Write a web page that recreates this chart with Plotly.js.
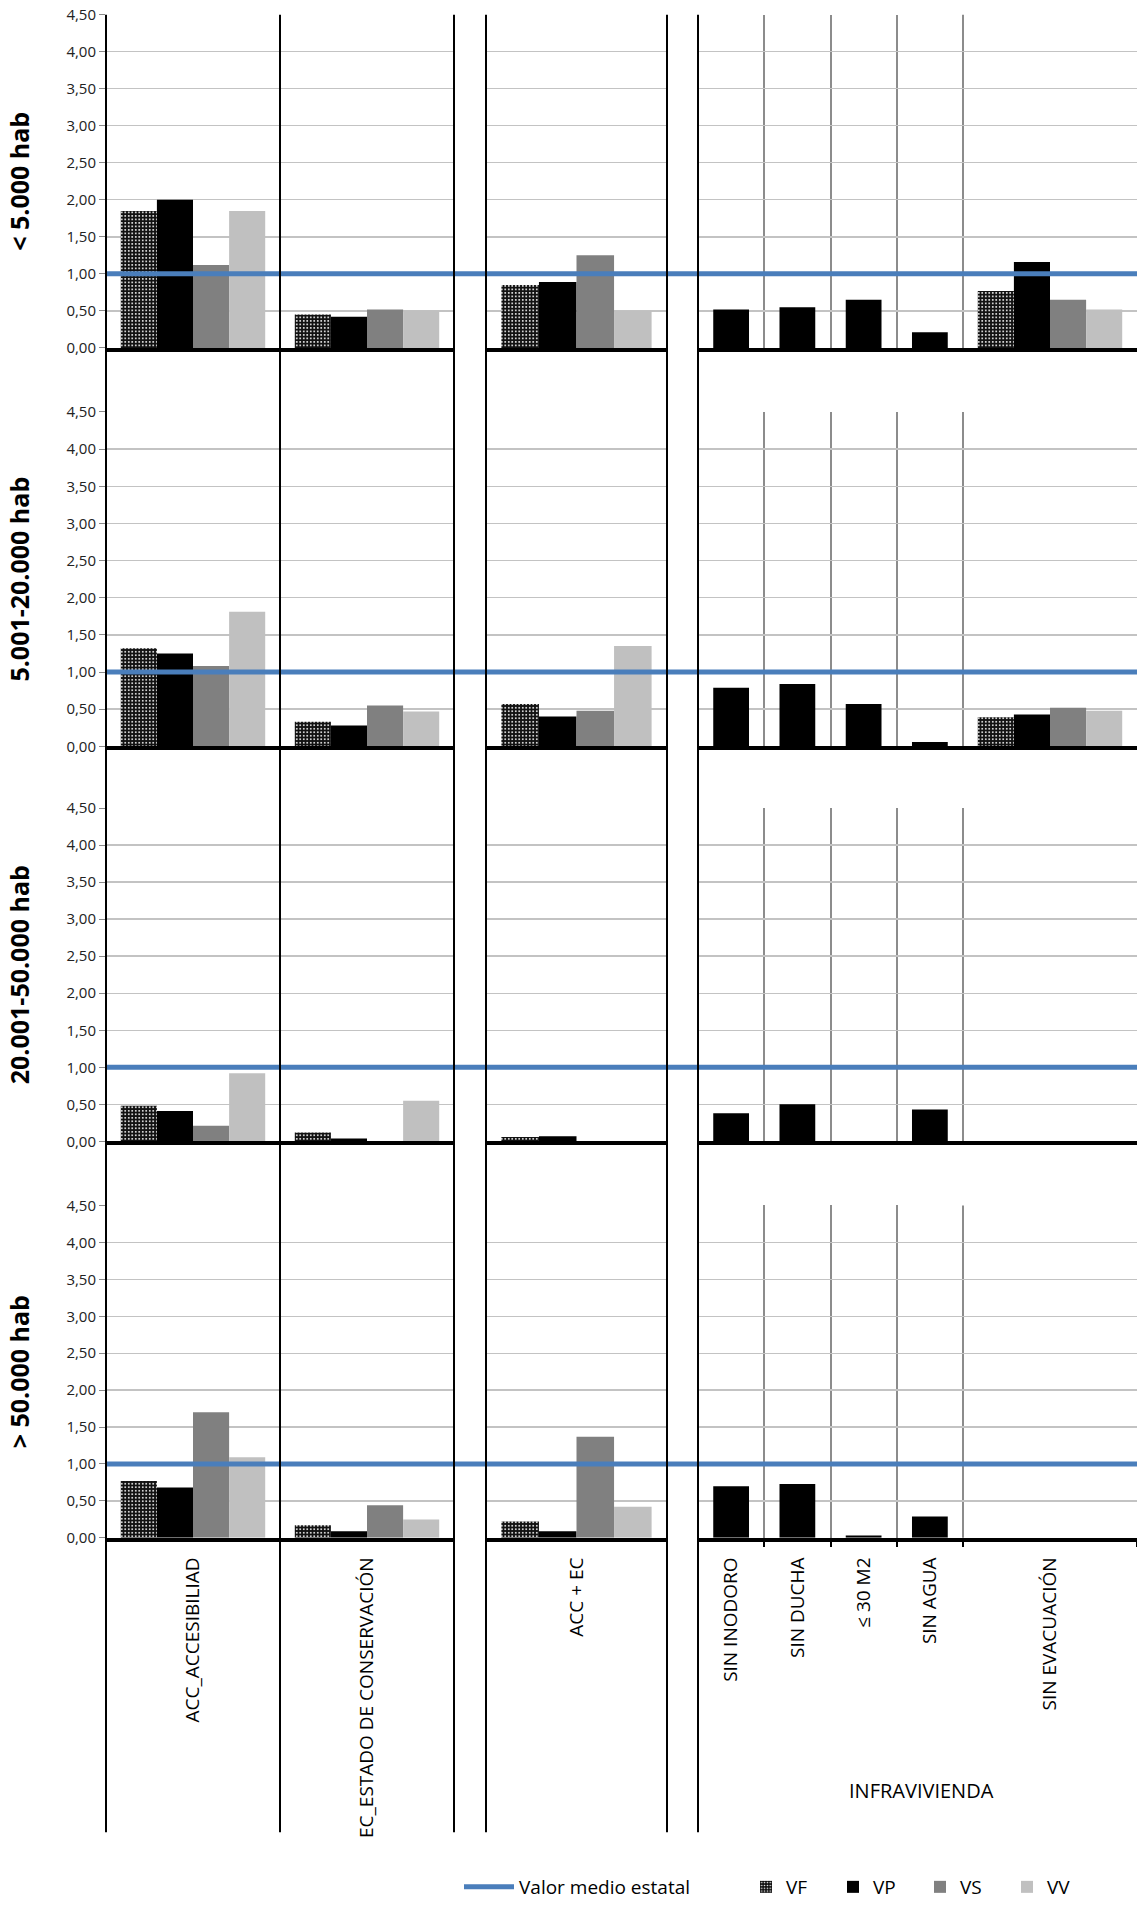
<!DOCTYPE html>
<html>
<head>
<meta charset="utf-8">
<script src="https://cdn.plot.ly/plotly-3.0.1.min.js"></script>
<style>html,body{margin:0;padding:0;background:#fff;}</style>
</head>
<body>
<div id="chart" style="width:1137px;height:1906px;"></div>
<script>
// ---------------- DATA ----------------
const categories = ['ACC_ACCESIBILIAD', 'EC_ESTADO DE CONSERVACIÓN', 'ACC + EC',
  'SIN INODORO', 'SIN DUCHA', '≤ 30 M2', 'SIN AGUA', 'SIN EVACUACIÓN'];
const groupLabel = 'INFRAVIVIENDA';
const rowLabels = ['< 5.000 hab', '5.001-20.000 hab', '20.001-50.000 hab', '> 50.000 hab'];
const seriesNames = ['VF', 'VP', 'VS', 'VV'];
const lineName = 'Valor medio estatal';
const valorMedio = 1.0;

// < 5.000 hab
const vfRow1 = [1.85, 0.45, 0.85, null, null, null, null, 0.77];
const vpRow1 = [2.00, 0.42, 0.89, 0.52, 0.55, 0.65, 0.21, 1.16];
const vsRow1 = [1.12, 0.52, 1.25, null, null, null, null, 0.65];
const vvRow1 = [1.85, 0.51, 0.50, null, null, null, null, 0.52];
// 5.001-20.000 hab
const vfRow2 = [1.32, 0.33, 0.57, null, null, null, null, 0.39];
const vpRow2 = [1.25, 0.28, 0.40, 0.79, 0.84, 0.57, 0.06, 0.43];
const vsRow2 = [1.08, 0.55, 0.48, null, null, null, null, 0.52];
const vvRow2 = [1.81, 0.47, 1.35, null, null, null, null, 0.48];
// 20.001-50.000 hab
const vfRow3 = [0.48, 0.12, 0.06, null, null, null, null, 0];
const vpRow3 = [0.41, 0.04, 0.07, 0.38, 0.50, 0, 0.43, 0];
const vsRow3 = [0.21, 0, 0, null, null, null, null, 0];
const vvRow3 = [0.92, 0.55, 0, null, null, null, null, 0];
// > 50.000 hab
const vfRow4 = [0.77, 0.17, 0.22, null, null, null, null, 0];
const vpRow4 = [0.68, 0.09, 0.09, 0.70, 0.73, 0.03, 0.29, 0];
const vsRow4 = [1.70, 0.44, 1.37, null, null, null, null, 0];
const vvRow4 = [1.09, 0.25, 0.42, null, null, null, null, 0];

const rowsData = [
  [vfRow1, vpRow1, vsRow1, vvRow1],
  [vfRow2, vpRow2, vsRow2, vvRow2],
  [vfRow3, vpRow3, vsRow3, vvRow3],
  [vfRow4, vpRow4, vsRow4, vvRow4]
];

// ---------------- LAYOUT GEOMETRY (pixels) ----------------
const W = 1137, H = 1906;
const FONT = 'Open Sans';
const colPx = [[106, 454], [486, 667], [698, 963], [963, 1137]];
const colSlices = [[0, 2], [2, 3], [3, 7], [7, 8]];
const rowPx = [[14.7, 349], [413.3, 748.7], [810.6, 1145], [1209.3, 1542.7]];
const dividerBottom = 1838;
const GRID_V = '#8c8c8c';

const seriesStyle = [
  {color: '#111111', pattern: {shape: '.', fgcolor: '#ffffff', bgcolor: '#111111', size: 3.5, solidity: 0.22, fillmode: 'replace'}},
  {color: '#000000'},
  {color: '#808080'},
  {color: '#c0c0c0'}
];

const traces = [];
const layout = {
  width: W, height: H,
  margin: {l: 0, r: 0, t: 0, b: 0, pad: 0},
  paper_bgcolor: '#ffffff', plot_bgcolor: 'rgba(0,0,0,0)',
  separators: ',.',
  barmode: 'group', bargap: 0.17, bargroupgap: 0,
  font: {family: FONT, color: '#000'},
  hovermode: false,
  shapes: [], annotations: [],
  legend: {
    orientation: 'h', x: 459 / W, xanchor: 'left', y: (H - 1893) / H, yanchor: 'middle',
    font: {family: FONT, size: 19, color: '#000'}, bgcolor: 'rgba(0,0,0,0)', borderwidth: 0,
    itemwidth: 50
  },
  legend2: {
    orientation: 'h', x: 746 / W, xanchor: 'left', y: (H - 1893) / H, yanchor: 'middle',
    font: {family: FONT, size: 19, color: '#000'}, bgcolor: 'rgba(0,0,0,0)', borderwidth: 0,
    entrywidthmode: 'pixels', entrywidth: 42
  }
};

for (let r = 0; r < 4; r++) {
  const yDom = [(H - rowPx[r][1]) / H, (H - rowPx[r][0]) / H];
  for (let c = 0; c < 4; c++) {
    const n = r * 4 + c + 1;
    const xName = 'xaxis' + (n === 1 ? '' : n), yName = 'yaxis' + (n === 1 ? '' : n);
    const xId = 'x' + (n === 1 ? '' : n), yId = 'y' + (n === 1 ? '' : n);
    const cats = categories.slice(colSlices[c][0], colSlices[c][1]);
    const isBottom = r === 3;
    layout[xName] = {
      domain: [colPx[c][0] / W, colPx[c][1] / W],
      anchor: yId, type: 'category', categoryorder: 'array', categoryarray: cats,
      range: [-0.5, cats.length - 0.5], fixedrange: true,
      showgrid: c >= 2, gridcolor: GRID_V, gridwidth: 2,
      tickson: 'boundaries',
      showline: true, linecolor: '#000', linewidth: 4,
      zeroline: false,
      ticks: isBottom ? 'outside' : '', ticklen: 5, tickwidth: 2, tickcolor: '#000',
      showticklabels: isBottom, tickangle: -90, ticklabelstandoff: 8,
      tickfont: {family: FONT, size: 19, color: '#000'},
      automargin: false
    };
    layout[yName] = {
      domain: yDom, anchor: xId, range: [0, 4.5], fixedrange: true,
      tick0: 0, dtick: 0.5, tickformat: '.2f',
      showgrid: true, gridcolor: '#c3c3c3', gridwidth: 1.4,
      zeroline: false, showline: false,
      showticklabels: c === 0, ticks: c === 0 ? 'outside' : '',
      ticklen: 6, tickwidth: 1, tickcolor: '#8a8a8a',
      tickfont: {family: FONT, size: 15, color: '#222'},
      automargin: false
    };
    if (c === 0) {
      layout[yName].title = {text: rowLabels[r], standoff: 29,
        font: {family: FONT, size: 25, weight: 'bold', color: '#000'}};
    }
    for (let s = 0; s < 4; s++) {
      const vals = rowsData[r][s].slice(colSlices[c][0], colSlices[c][1]);
      if (vals.every(v => v === null)) continue;
      const tr = {
        type: 'bar', x: cats, y: vals, xaxis: xId, yaxis: yId,
        name: seriesNames[s], legend: 'legend2', legendgroup: seriesNames[s],
        showlegend: r === 0 && c === 0,
        marker: Object.assign({line: {width: 0}}, JSON.parse(JSON.stringify(seriesStyle[s])))
      };
      if (c === 2) tr.width = 0.54;
      traces.push(tr);
    }
  }
  // grey boundary between the single-bar block and SIN EVACUACIÓN (axis edge, not drawn as grid)
  layout.shapes.push({
    type: 'line', xref: 'paper', yref: 'paper',
    x0: colPx[2][1] / W, x1: colPx[2][1] / W, y0: yDom[0], y1: yDom[1],
    line: {color: GRID_V, width: 2}, layer: 'below'
  });
  // reference line (valor medio estatal) across the whole row
  layout.shapes.push({
    type: 'line', xref: 'paper', yref: 'y' + (r * 4 + 1 === 1 ? '' : r * 4 + 1),
    x0: colPx[0][0] / W, x1: colPx[3][1] / W, y0: valorMedio, y1: valorMedio,
    line: {color: '#4a7ebb', width: 5}, layer: 'above',
    name: lineName, showlegend: r === 0, legend: 'legend'
  });
}

// black dividers running through all rows down to the label area
const dividers = [colPx[0][0], (colPx[0][0] + colPx[0][1]) / 2, colPx[0][1], colPx[1][0], colPx[1][1], colPx[2][0]];
dividers.forEach(px => {
  layout.shapes.push({
    type: 'line', xref: 'paper', yref: 'paper',
    x0: px / W, x1: px / W, y0: (H - dividerBottom) / H, y1: (H - rowPx[0][0]) / H,
    line: {color: '#000', width: 2}, layer: 'above'
  });
});

layout.annotations.push({
  text: groupLabel, xref: 'paper', yref: 'paper',
  x: (colPx[2][0] + colPx[3][1]) / 2 / W + 4 / W, y: (H - 1796) / H,
  xanchor: 'center', yanchor: 'middle', showarrow: false,
  font: {family: FONT, size: 20, color: '#000'}
});

Plotly.newPlot('chart', traces, layout, {staticPlot: true, displayModeBar: false});
</script>
</body>
</html>
